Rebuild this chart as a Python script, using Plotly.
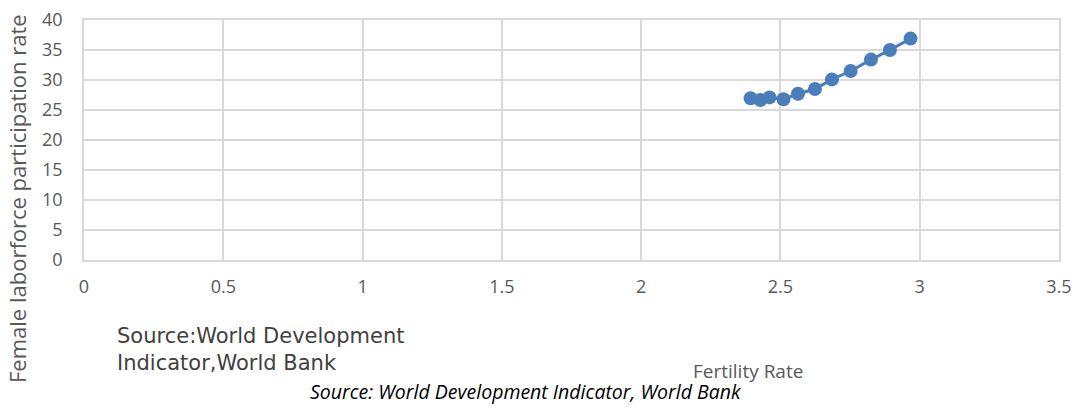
import plotly.graph_objects as go

fertility_rate = [2.393, 2.428, 2.461, 2.511, 2.563, 2.624, 2.685, 2.752, 2.825, 2.893, 2.967]
female_lfpr = [26.95, 26.67, 27.1, 26.8, 27.7, 28.5, 30.1, 31.5, 33.4, 35.0, 36.9]

x_ticks = [0, 0.5, 1, 1.5, 2, 2.5, 3, 3.5]
x_tick_labels = ["0", "0.5", "1", "1.5", "2", "2.5", "3", "3.5"]
y_ticks = [0, 5, 10, 15, 20, 25, 30, 35, 40]

blue = "#4a7ebb"
grid = "#d9d9d9"
tickc = "#595959"
tickfont = dict(family="Open Sans, Liberation Sans, sans-serif", size=18, color=tickc)

L, R, T, B = 84, 15, 20, 148
PW, PH = 1074 - L - R, 408 - T - B

fig = go.Figure()
fig.add_trace(go.Scatter(
    x=fertility_rate, y=female_lfpr, mode="lines+markers",
    line=dict(color=blue, width=3),
    marker=dict(color=blue, size=14),
    showlegend=False,
))

fig.update_layout(
    width=1074, height=408,
    margin=dict(l=L, r=R, t=T, b=B),
    paper_bgcolor="white", plot_bgcolor="white",
    xaxis=dict(range=[0, 3.5], tickvals=x_ticks, ticktext=x_tick_labels,
               showgrid=True, gridcolor=grid, gridwidth=1.5,
               showline=True, linecolor=grid, linewidth=1.5, mirror=True,
               zeroline=False, tickfont=tickfont, ticks="", ticklen=0,
               ticklabelstandoff=10, automargin=False),
    yaxis=dict(range=[0, 40], tickvals=y_ticks,
               showgrid=True, gridcolor=grid, gridwidth=1.5,
               showline=True, linecolor=grid, linewidth=1.5, mirror=True,
               zeroline=False, tickfont=tickfont, ticks="", ticklen=0,
               ticklabelstandoff=16, automargin=False),
)

def px(xp):
    return (xp - L) / PW

def py(yp):
    return (408 - B - yp) / PH

fig.add_annotation(text="Female laborforce participation rate", xref="paper", yref="paper",
                   x=px(17), y=py(199), textangle=-90, showarrow=False,
                   xanchor="center", yanchor="middle",
                   font=dict(family="Open Sans, Liberation Sans, sans-serif", size=22, color=tickc))

fig.add_annotation(text="Source:World Development<br>Indicator,World Bank", xref="paper", yref="paper",
                   x=px(115), y=py(322), xanchor="left", yanchor="top",
                   align="left", showarrow=False,
                   font=dict(family="DejaVu Sans, Verdana, sans-serif", size=21, color="#404040"))

fig.add_annotation(text="Fertility Rate", xref="paper", yref="paper",
                   x=px(748), y=py(356), xanchor="center", yanchor="top",
                   showarrow=False,
                   font=dict(family="Open Sans, Liberation Sans, sans-serif", size=19, color=tickc))

fig.add_annotation(text="<i>Source: World Development Indicator, World Bank</i>", xref="paper", yref="paper",
                   x=px(526), y=py(407), xanchor="center", yanchor="bottom",
                   showarrow=False,
                   font=dict(family="Open Sans, Liberation Sans, sans-serif", size=19.5, color="black"))

fig.write_html("out.html")
